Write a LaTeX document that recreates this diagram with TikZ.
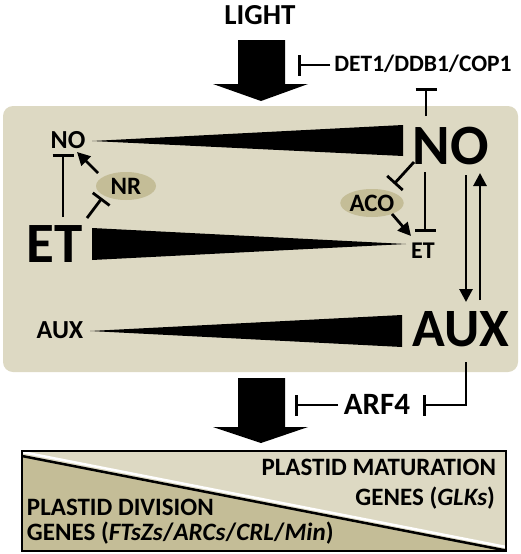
\documentclass[tikz,border=0pt]{standalone}
\usepackage{fontspec}
\setmainfont{Carlito}
\usetikzlibrary{arrows.meta,shapes.geometric}
\definecolor{tanlight}{HTML}{DDD9C3}
\definecolor{tandark}{HTML}{C4BD97}
\newcommand{\fsz}[1]{\fontsize{#1pt}{#1pt}\selectfont\bfseries}
\begin{document}
\begin{tikzpicture}[x=1pt,y=-1pt,
  lbl/.style={inner sep=0pt,outer sep=0pt},
  conn/.style={line width=2.8pt},
  inh/.style={conn,-{Bar[width=21pt,line width=2.8pt]}},
  act/.style={conn,-{Triangle[width=13pt,length=13pt]}},
  wedge/.style={fill=black},
  bigarrow/.style={fill=black},
  enzyme/.style={ellipse,fill=tandark,inner sep=0pt,font=\fsz{25}}
]
\useasboundingbox (0,0) rectangle (520,554);
% panel
\fill[tanlight,rounded corners=10pt] (3,106) rectangle (518,372);
% top
\node[lbl,anchor=base,font=\fsz{29}] (light) at (260,24) {LIGHT};
\fill[bigarrow] (238,40) -- (285,40) -- (285,84) -- (308,84) -- (261,101) -- (213,84) -- (238,84) -- cycle;
\node[lbl,anchor=base,font=\fsz{23.5}] (det) at (423,71) {DET1/DDB1/COP1};
\coordinate (lightbar) at (298,65);
\draw[inh] (det.west|-lightbar) ++(-4,0) coordinate (detw) -- (lightbar);
% big nodes
\node[lbl,anchor=base,font=\fsz{57}] (NO) at (451,164) {NO};
\node[lbl,anchor=base,font=\fsz{57}] (ET) at (55,262) {ET};
\node[lbl,anchor=base,font=\fsz{54}] (AUX) at (461,346) {AUX};
% small nodes
\node[lbl,anchor=base,font=\fsz{26}] (no) at (68,148) {NO};
\node[lbl,anchor=base,font=\fsz{24}] (et) at (423,258) {ET};
\node[lbl,anchor=base,font=\fsz{26}] (aux) at (60,338) {AUX};
% enzymes
\node[enzyme,minimum width=60pt,minimum height=28pt] (nr) at (126,186) {NR};
\node[enzyme,minimum width=58pt,minimum height=28pt] (aco) at (372,203) {ACO};
% wedges
\fill[wedge] (92,141) -- (403,125) -- (403,156) -- cycle;
\fill[wedge] (92,228) -- (92,260) -- (406,244) -- cycle;
\fill[wedge] (90,331) -- (402,315) -- (402,347) -- cycle;
% connectors
\coordinate (notop) at (426,116);
\coordinate (detbot) at (426,88);
\draw[inh] (notop) -- (detbot);
\coordinate (etup) at (63,217);
\coordinate (nobar) at (63,154);
\draw[inh] (etup) -- (nobar);
\coordinate (etnr) at (87,218);
\coordinate (nrbar) at (102,198);
\draw[inh] (etnr) -- (nrbar);
\coordinate (nrout) at (98,173);
\coordinate (noin) at (77,152);
\draw[act] (nrout) -- (noin);
\coordinate (noaco) at (414,162);
\coordinate (acobar) at (394,184);
\draw[inh] (noaco) -- (acobar);
\coordinate (noet) at (425,172);
\coordinate (etbar) at (425,232);
\draw[inh] (noet) -- (etbar);
\coordinate (acoout) at (392,214);
\coordinate (etin) at (411,236);
\draw[act] (acoout) -- (etin);
\coordinate (nodown) at (466,175);
\coordinate (auxin) at (466,302);
\draw[act] (nodown) -- (auxin);
\coordinate (auxup) at (480,300);
\coordinate (noin2) at (480,173);
\draw[act] (auxup) -- (noin2);
% ARF4
\fill[bigarrow] (238,378) -- (285,378) -- (285,427) -- (308,427) -- (261,443) -- (213,427) -- (238,427) -- cycle;
\node[lbl,anchor=base,font=\fsz{31}] (arf) at (377,414) {ARF4};
\coordinate (arfbar) at (295,405);
\coordinate (arfw) at (338,405);
\draw[inh] (arfw) -- (arfbar);
\coordinate (auxbot) at (466,362);
\coordinate (arfrbar) at (423,405);
\draw[inh] (auxbot) |- (arfrbar);
% bottom box
\fill[tanlight] (22,451) rectangle (506,551);
\fill[tandark] (22,456) -- (506,550.5) -- (22,551) -- cycle;
\draw[white,line width=2.5pt] (22,452) -- (506,547);
\draw[black,line width=2.5pt] (22,456) -- (506,550.5);
\draw[black,line width=2.5pt] (22,451) rectangle (506,551);
\node[lbl,anchor=base east,font=\fsz{25}] (mat1) at (496,475) {PLASTID MATURATION};
\node[lbl,anchor=base east,font=\fsz{25}] (mat2) at (495,505) {GENES (\textit{GLKs})};
\node[lbl,anchor=base west,font=\fsz{25}] (div1) at (27,515) {PLASTID DIVISION};
\node[lbl,anchor=base west,font=\fsz{25}] (div2) at (27,540) {GENES (\textit{FTsZs}/\textit{ARCs}/\textit{CRL}/\textit{Min})};
\end{tikzpicture}
\end{document}
